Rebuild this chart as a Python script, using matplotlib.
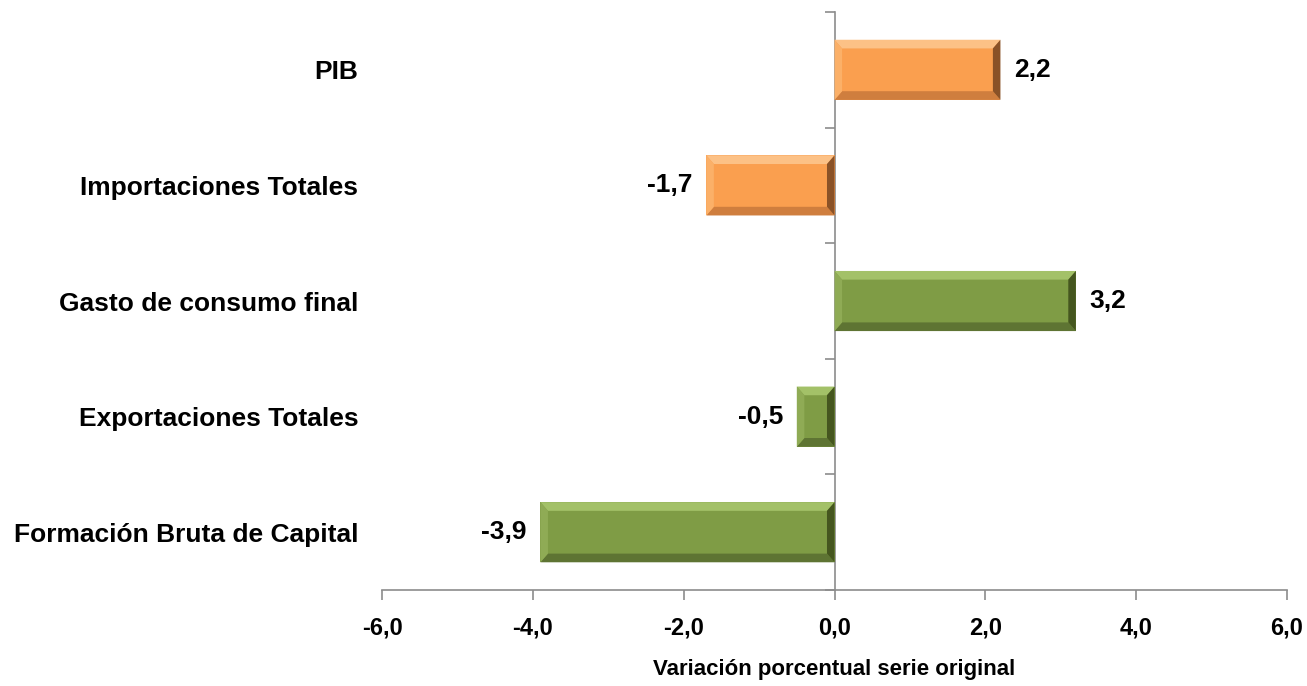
import matplotlib
matplotlib.use("Agg")
import matplotlib.pyplot as plt
from matplotlib.patches import Polygon

plt.rcParams['font.family'] = ['Liberation Sans', 'DejaVu Sans']
plt.rcParams['font.weight'] = 'bold'

# data, bottom to top
categories = ['Formación Bruta de Capital', 'Exportaciones Totales',
              'Gasto de consumo final', 'Importaciones Totales', 'PIB']
values = [-3.9, -0.5, 3.2, -1.7, 2.2]
groups = ['green', 'green', 'green', 'orange', 'orange']
xticks = [-6, -4, -2, 0, 2, 4, 6]

palette = {
    'orange': dict(face='#FA9F4F', top='#FCC186', bottom='#CF7E3E', left='#FBB068', right='#8A5227'),
    'green': dict(face='#7F9C45', top='#A3C168', bottom='#5E7433', left='#8FAB55', right='#45561F'),
}
axis_grey = '#8C8C8C'

fig = plt.figure(figsize=(13.07, 6.86), dpi=100)
ax = fig.add_axes([0.2923, 0.1399, 0.6924, 0.8426])
ax.set_xlim(-6, 6)
ax.set_ylim(-0.5, 4.5)

h = 0.52
bx = 0.10   # bevel in x data units
by = 0.075  # bevel in y data units
for i, (v, g) in enumerate(zip(values, groups)):
    c = palette[g]
    x0, x1 = min(0, v), max(0, v)
    y0, y1 = i - h / 2, i + h / 2
    ax.barh(i, v, height=h, color=c['face'], edgecolor='none', zorder=2)
    bxx = min(bx, (x1 - x0) / 2.5)
    # bevel facets
    ax.add_patch(Polygon([(x0, y1), (x1, y1), (x1 - bxx, y1 - by), (x0 + bxx, y1 - by)],
                         closed=True, color=c['top'], lw=0, zorder=3))
    ax.add_patch(Polygon([(x0, y0), (x1, y0), (x1 - bxx, y0 + by), (x0 + bxx, y0 + by)],
                         closed=True, color=c['bottom'], lw=0, zorder=3))
    ax.add_patch(Polygon([(x0, y0), (x0, y1), (x0 + bxx, y1 - by), (x0 + bxx, y0 + by)],
                         closed=True, color=c['left'], lw=0, zorder=3))
    ax.add_patch(Polygon([(x1, y0), (x1, y1), (x1 - bxx, y1 - by), (x1 - bxx, y0 + by)],
                         closed=True, color=c['right'], lw=0, zorder=3))
    lab = f'{v:.1f}'.replace('.', ',')
    if v >= 0:
        ax.annotate(lab, (v, i), xytext=(10, 0), textcoords='offset points',
                    ha='left', va='center', fontsize=19, fontweight='bold')
    else:
        ax.annotate(lab, (v, i), xytext=(-10, 0), textcoords='offset points',
                    ha='right', va='center', fontsize=19, fontweight='bold')

# category labels on the left
ax.set_yticks(range(len(categories)))
ax.set_yticklabels(categories, fontsize=19, fontweight='bold')
ax.tick_params(axis='y', length=0, pad=17)

ax.set_xticks(xticks)
ax.set_xticklabels([f'{t:.1f}'.replace('.', ',') for t in xticks], fontsize=17, fontweight='bold')
ax.tick_params(axis='x', length=7, width=1.2, color=axis_grey, pad=12)
ax.set_xlabel('Variación porcentual serie original', fontsize=16, fontweight='bold', labelpad=14)

for s in ['top', 'right', 'left']:
    ax.spines[s].set_visible(False)
ax.spines['bottom'].set_color(axis_grey)
ax.spines['bottom'].set_linewidth(1.2)

# vertical category axis at x = 0, ticks between categories pointing left
sec = ax.secondary_yaxis(0.5)
sec.set_yticks([k - 0.5 for k in range(len(categories) + 1)])
sec.set_yticklabels([])
sec.tick_params(axis='y', length=7, width=1.2, color=axis_grey, direction='in')
for sp in sec.spines.values():
    sp.set_color(axis_grey)
    sp.set_linewidth(1.2)

fig.savefig('out.png', dpi=100)
